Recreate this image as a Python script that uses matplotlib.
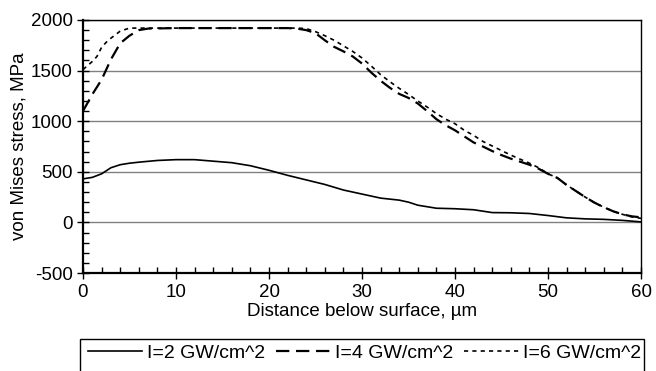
import numpy as np
import matplotlib
matplotlib.use("Agg")
import matplotlib.pyplot as plt
from matplotlib.ticker import MultipleLocator
from matplotlib.patches import Rectangle

plt.rcParams['font.family'] = ['Liberation Sans', 'DejaVu Sans']
plt.rcParams['axes.unicode_minus'] = False

# I=2 GW/cm^2
x2 = [0, 1, 2, 3, 4, 5, 6, 8, 10, 12, 14, 16, 18, 20, 22, 24, 26, 28, 30, 32,
      34, 35, 36, 38, 40, 42, 44, 46, 48, 50, 52, 54, 56, 58, 60]
y2 = [430, 445, 480, 540, 570, 585, 595, 612, 620, 620, 605, 590, 560, 515, 465,
      420, 375, 320, 280, 240, 220, 200, 170, 140, 135, 125, 97, 95, 88, 68, 45,
      35, 30, 20, 5]

# I=4 GW/cm^2
x4 = [0, 1, 2, 3, 4, 5, 6, 7, 10, 15, 20, 22, 23, 24, 25, 26, 27, 28, 29, 30,
      31, 32, 33, 34, 35, 36, 37, 38, 39, 40, 41, 42, 43, 44, 45, 46, 47, 48,
      49, 50, 51, 52, 53, 54, 55, 56, 57, 58, 59, 60]
y4 = [1100, 1265, 1410, 1610, 1770, 1845, 1900, 1915, 1920, 1920, 1920, 1920,
      1915, 1900, 1870, 1800, 1735, 1690, 1640, 1570, 1480, 1400, 1330, 1270,
      1230, 1175, 1100, 1020, 960, 910, 850, 790, 750, 705, 665, 630, 600, 570,
      530, 480, 440, 370, 310, 250, 195, 150, 110, 80, 60, 50]

# I=6 GW/cm^2
x6 = [0, 0.5, 1, 1.5, 2, 2.5, 3, 4, 5, 10, 15, 20, 23, 24, 25, 26, 27, 28, 29,
      30, 31, 32, 33, 34, 35, 36, 37, 38, 39, 40, 41, 42, 43, 44, 45, 46, 47,
      48, 49, 50, 51, 52, 53, 54, 55, 56, 57, 58, 59, 60]
y6 = [1510, 1550, 1590, 1640, 1730, 1780, 1820, 1890, 1920, 1920, 1920, 1920,
      1920, 1915, 1885, 1845, 1800, 1745, 1690, 1625, 1545, 1460, 1390, 1325,
      1265, 1200, 1140, 1075, 1020, 975, 910, 860, 800, 755, 710, 665, 625,
      585, 540, 480, 440, 370, 310, 250, 195, 150, 110, 80, 55, 40]

labels = ['I=2 GW/cm^2', 'I=4 GW/cm^2', 'I=6 GW/cm^2']

W, H = 656, 371
fig = plt.figure(figsize=(W / 100, H / 100), dpi=100)
ax = fig.add_axes([83 / W, 1 - 273 / H, 558 / W, 253 / H])

for v in [-500, 0, 500, 1000, 1500, 2000]:
    ax.axhline(v, color='#808080', lw=1.0, zorder=1)

l1, = ax.plot(x2, y2, color='black', lw=1.2, zorder=3)
l2, = ax.plot(x4, y4, color='black', lw=1.6, dashes=(6, 3), zorder=3)
l3, = ax.plot(x6, y6, color='black', lw=1.2, dashes=(2.5, 2.5), zorder=3)

ax.set_xlim(0, 60)
ax.set_ylim(-500, 2000)
ax.xaxis.set_major_locator(MultipleLocator(10))
ax.xaxis.set_minor_locator(MultipleLocator(2))
ax.yaxis.set_major_locator(MultipleLocator(500))
ax.yaxis.set_minor_locator(MultipleLocator(100))
ax.tick_params(which='major', direction='inout', length=9, width=1, labelsize=13.5, colors='black')
ax.tick_params(which='minor', direction='in', length=4, width=1)
ax.tick_params(axis='x', which='major', pad=3.5)
ax.tick_params(axis='y', which='major', pad=3)
for s in ax.spines.values():
    s.set_linewidth(1.0)
    s.set_zorder(4)
ax.spines['bottom'].set_linewidth(1.6)
ax.spines['left'].set_linewidth(1.6)

ax.set_xlabel('Distance below surface, \u00b5m', fontsize=13.5, labelpad=1.5)
ax.set_ylabel('von Mises stress, MPa', fontsize=13.5, labelpad=2)

# legend box runs off the bottom of the picture
fig.patches.append(Rectangle((80 / W, -0.1), 564 / W, 0.1 + (H - 339) / H,
                             transform=fig.transFigure, fill=False,
                             edgecolor='black', lw=1.0))
leg = fig.legend([l1, l2, l3], labels, loc='center left', ncol=3,
                 bbox_to_anchor=(80 / W, 1 - 353 / H), frameon=False,
                 fontsize=14, handlelength=2.8, columnspacing=0.55,
                 handletextpad=0.25, borderpad=0.0, borderaxespad=0.4)

fig.savefig('out.png', dpi=100)
